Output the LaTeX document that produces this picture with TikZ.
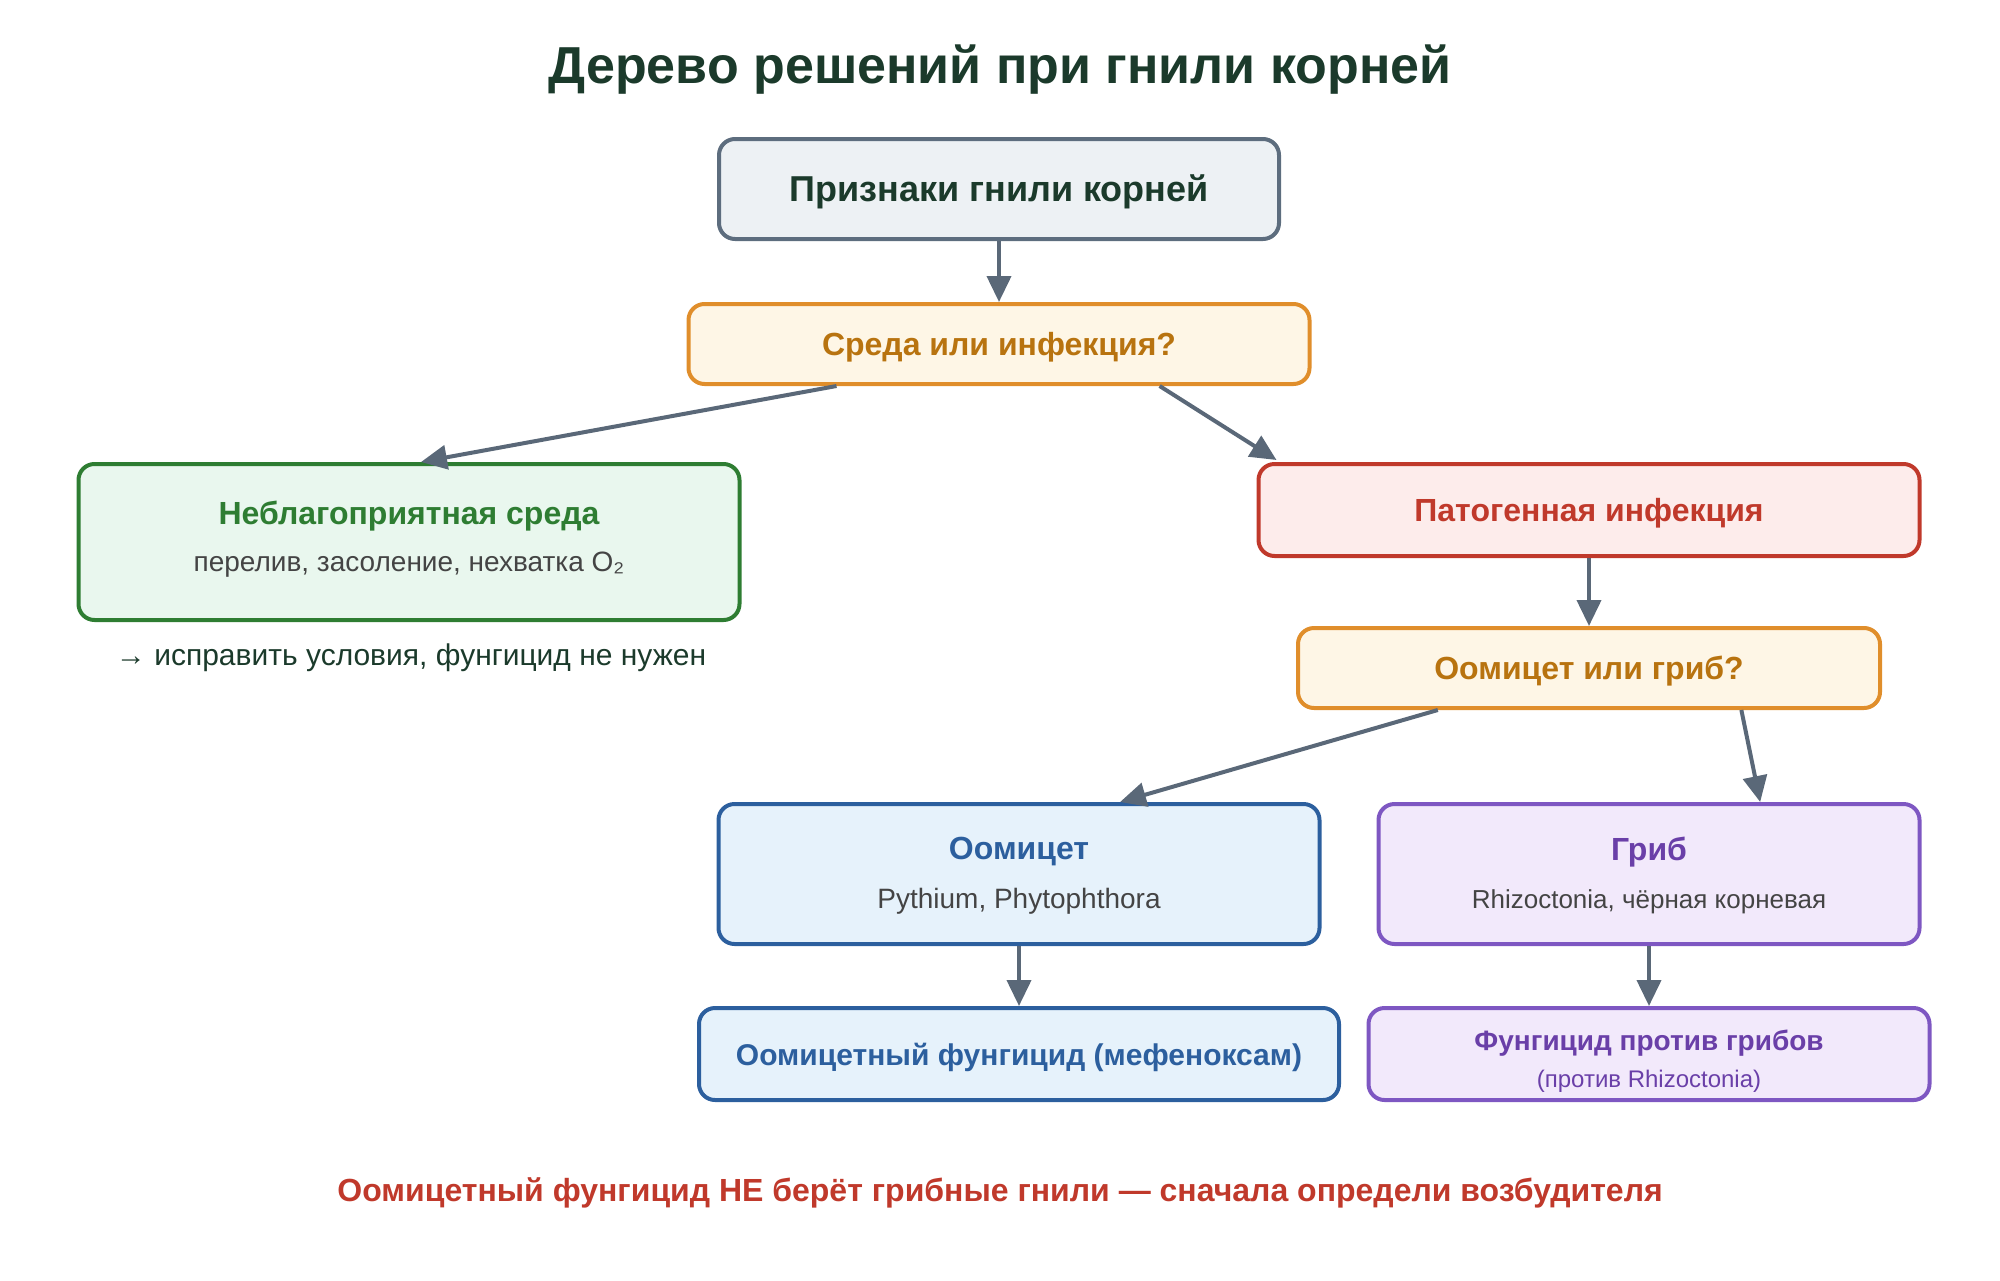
\documentclass[tikz,border=0pt]{standalone}
\usepackage{fontspec}
\setmainfont{Liberation Sans}
\usetikzlibrary{arrows.meta,calc}
\definecolor{titlec}{HTML}{1B3A2B}
\definecolor{arr}{HTML}{5A6878}
\definecolor{gstroke}{HTML}{5D6D7E}\definecolor{gfill}{HTML}{EDF1F4}
\definecolor{ostroke}{HTML}{E08E2B}\definecolor{ofill}{HTML}{FEF6E6}\definecolor{otext}{HTML}{B8730F}
\definecolor{grstroke}{HTML}{2E7D32}\definecolor{grfill}{HTML}{E9F7EE}
\definecolor{rstroke}{HTML}{C0392B}\definecolor{rfill}{HTML}{FDECEB}
\definecolor{bstroke}{HTML}{2C5F9E}\definecolor{bfill}{HTML}{E6F2FB}
\definecolor{pstroke}{HTML}{7E57C2}\definecolor{pfill}{HTML}{F2E9FB}\definecolor{ptext}{HTML}{6A3FA8}
\definecolor{subc}{HTML}{444444}
\tikzset{
  box/.style={draw, rounded corners=16pt, line width=4pt, inner sep=0pt},
  conn/.style={draw=arr, line width=4pt, -{Triangle[length=26pt,width=24pt]}},
  ttl/.style={font=\fontsize{32}{38}\selectfont\bfseries, inner sep=0pt},
  sub/.style={font=\fontsize{28}{32}\selectfont, text=subc, inner sep=0pt},
}
\begin{document}
\begin{tikzpicture}[x=1pt,y=-1pt]
\useasboundingbox (0,0) rectangle (2000,1280);
\node[font=\fontsize{52}{60}\selectfont\bfseries, text=titlec, inner sep=0pt] (title) at (1000,70) {Дерево решений при гнили корней};

\node[box, draw=gstroke, fill=gfill, minimum width=560pt, minimum height=100pt] (sym) at (999,189) {};
\node[ttl, text=titlec, font=\fontsize{36}{42}\selectfont\bfseries] (symt) at (999,192) {Признаки гнили корней};

\node[box, draw=ostroke, fill=ofill, minimum width=621pt, minimum height=80pt] (q1) at (999,344) {};
\node[ttl, text=otext] (q1t) at (999,347) {Среда или инфекция?};

\node[box, draw=grstroke, fill=grfill, minimum width=661pt, minimum height=156pt] (env) at (409,542) {};
\node[ttl, text=grstroke] (envt) at (409,516) {Неблагоприятная среда};
\node[sub] (envs) at (409,565) {перелив, засоление, нехватка O₂};
\node[font=\fontsize{30}{36}\selectfont, text=titlec, inner sep=0pt] (envn) at (411,658) {→ исправить условия, фунгицид не нужен};

\node[box, draw=rstroke, fill=rfill, minimum width=661pt, minimum height=92pt] (inf) at (1589,510) {};
\node[ttl, text=rstroke] (inft) at (1589,513) {Патогенная инфекция};

\node[box, draw=ostroke, fill=ofill, minimum width=582pt, minimum height=80pt] (q2) at (1589,668) {};
\node[ttl, text=otext] (q2t) at (1589,671) {Оомицет или гриб?};

\node[box, draw=bstroke, fill=bfill, minimum width=601pt, minimum height=140pt] (oom) at (1019,874) {};
\node[ttl, text=bstroke] (oomt) at (1019,852) {Оомицет};
\node[sub] (ooms) at (1019,901) {Pythium, Phytophthora};

\node[box, draw=pstroke, fill=pfill, minimum width=541pt, minimum height=140pt] (fun) at (1649,874) {};
\node[ttl, text=ptext] (funt) at (1649,852) {Гриб};
\node[sub, font=\fontsize{26}{30}\selectfont] (funs) at (1649,902) {Rhizoctonia, чёрная корневая};

\node[box, draw=bstroke, fill=bfill, minimum width=640pt, minimum height=92pt] (oomf) at (1019,1054) {};
\node[ttl, text=bstroke, font=\fontsize{30}{36}\selectfont\bfseries] (oomft) at (1019,1057) {Оомицетный фунгицид (мефеноксам)};

\node[box, draw=pstroke, fill=pfill, minimum width=561pt, minimum height=92pt] (funf) at (1649,1054) {};
\node[ttl, text=ptext, font=\fontsize{28}{32}\selectfont\bfseries] (funft) at (1649,1043) {Фунгицид против грибов};
\node[sub, text=ptext, font=\fontsize{24}{28}\selectfont] (funfs) at (1649,1081) {(против Rhizoctonia)};

\node[font=\fontsize{32}{38}\selectfont\bfseries, text=rstroke, inner sep=0pt] (note) at (1000,1193) {Оомицетный фунгицид НЕ берёт грибные гнили — сначала определи возбудителя};

\draw[conn] (sym.south) -- (q1.north);
\draw[conn] ($(q1.south west)!0.24!(q1.south east)$) -- ($(env.north)+(12,0)$);
\draw[conn] ($(q1.south west)!0.757!(q1.south east)$) -- ($(inf.north west)+(20,-2)$);
\draw[conn] (inf.south) -- (q2.north);
\draw[conn] ($(q2.south west)!0.242!(q2.south east)$) -- ($(oom.north west)!0.667!(oom.north east)$);
\draw[conn] ($(q2.south west)!0.76!(q2.south east)$) -- ($(fun.north west)!0.704!(fun.north east)$);
\draw[conn] (oom.south) -- (oomf.north);
\draw[conn] (fun.south) -- (funf.north);
\end{tikzpicture}
\end{document}
